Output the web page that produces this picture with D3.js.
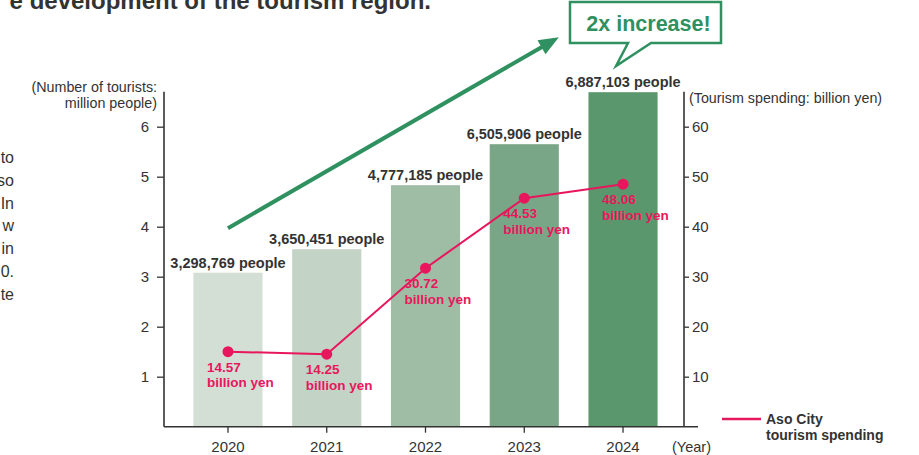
<!DOCTYPE html>
<html>
<head>
<meta charset="utf-8">
<script src="https://cdn.jsdelivr.net/npm/d3@7"></script>
<style>
  body { margin: 0; background: #fff; }
  svg { display: block; font-family: "Liberation Sans", Arial, sans-serif; }
</style>
</head>
<body>
<div id="graph"></div>
<script>
// data
let years = ["2020", "2021", "2022", "2023", "2024"];
let tourists = [3.08, 3.55, 4.83, 5.65, 6.69];          // bar heights, million people
let touristLabels = ["3,298,769 people", "3,650,451 people", "4,777,185 people", "6,505,906 people", "6,887,103 people"];
let spending = [15.0, 14.5, 31.7, 45.7, 48.5];           // billion yen
let spendingLabels = ["14.57", "14.25", "30.72", "44.53", "48.06"];
let leftTicks = [1, 2, 3, 4, 5, 6];
let rightTicks = [10, 20, 30, 40, 50, 60];
let barColors = ["#d3dfd4", "#c3d3c5", "#9fbca4", "#79a686", "#5a976c"];
let sideText = ["to", "so", "In", "w", "in", "0.", "te"];

let width = 919, height = 455;
let pink = "#e8175d", green = "#2f9060", ink = "#333333";

let svg = d3.select("#graph")
    .append("svg")
        .attr("width", width)
        .attr("height", height);

// scales
let x = d3.scaleBand()
    .domain(years)
    .range([178.6, 672.4])
    .paddingInner(0.3)
    .paddingOuter(0.15);

let yL = d3.scaleLinear().domain([0, 6.7]).range([426.7, 91.7]);
let yR = d3.scaleLinear().domain([0, 67]).range([426.7, 91.7]);

let axisLeftX = 164, axisRightX = 684, axisEndX = 698;

// cut-off heading + paragraph pieces (the picture is a crop of a bigger page)
svg.append("text")
    .attr("x", 431).attr("y", 9)
    .attr("text-anchor", "end")
    .style("font-size", "24px")
    .style("font-weight", "bold")
    .attr("fill", ink)
    .text("e development of the tourism region.");

svg.selectAll("text.side")
    .data(sideText)
    .enter()
    .append("text")
    .attr("class", "side")
    .attr("x", 14)
    .attr("y", (d, i) => 163 + i * 22.8)
    .attr("text-anchor", "end")
    .style("font-size", "16px")
    .attr("fill", ink)
    .text(d => d);

// bars
svg.selectAll("rect.bar")
    .data(tourists)
    .enter()
    .append("rect")
    .attr("class", "bar")
    .attr("x", (d, i) => x(years[i]))
    .attr("width", x.bandwidth())
    .attr("y", d => yL(d))
    .attr("height", d => yL(0) - yL(d))
    .attr("fill", (d, i) => barColors[i]);

svg.selectAll("text.barlabel")
    .data(tourists)
    .enter()
    .append("text")
    .attr("class", "barlabel")
    .attr("x", (d, i) => x(years[i]) + x.bandwidth() / 2)
    .attr("y", d => yL(d) - 5)
    .attr("text-anchor", "middle")
    .style("font-size", "14.5px")
    .style("font-weight", "bold")
    .attr("fill", ink)
    .text((d, i) => touristLabels[i]);

// left axis
let gL = svg.append("g")
    .attr("transform", `translate(${axisLeftX},0)`)
    .call(d3.axisLeft(yL).tickValues(leftTicks).tickFormat(d3.format("d")).tickSize(7).tickPadding(8).tickSizeOuter(0));
gL.select(".domain").remove();
gL.append("line").attr("y1", yL(0)).attr("y2", yL(6.7)).attr("stroke", ink).attr("stroke-width", 1.6);

// right axis
let gR = svg.append("g")
    .attr("transform", `translate(${axisRightX},0)`)
    .call(d3.axisRight(yR).tickValues(rightTicks).tickFormat(d3.format("d")).tickSize(5).tickPadding(3).tickSizeOuter(0));
gR.select(".domain").remove();
gR.append("line").attr("y1", yR(0)).attr("y2", yR(67)).attr("stroke", ink).attr("stroke-width", 1.6);

// bottom axis
let gB = svg.append("g")
    .attr("transform", `translate(0,${yL(0)})`)
    .call(d3.axisBottom(x).tickSize(6).tickPadding(9).tickSizeOuter(0));
gB.select(".domain").remove();
gB.append("line").attr("x1", axisLeftX).attr("x2", axisEndX).attr("stroke", ink).attr("stroke-width", 1.6);

[gL, gR, gB].forEach(g => {
    g.selectAll(".tick line").attr("stroke", ink).attr("stroke-width", 1.3);
    g.selectAll(".tick text")
        .attr("fill", ink)
        .style("font-size", "15px")
        .style("font-family", "'Liberation Sans', Arial, sans-serif");
});

svg.append("text")
    .attr("x", 672).attr("y", 452)
    .style("font-size", "14.5px")
    .attr("fill", ink)
    .text("(Year)");

// axis titles
svg.append("text")
    .attr("x", 157).attr("y", 92)
    .attr("text-anchor", "end")
    .style("font-size", "14.3px")
    .attr("fill", ink)
    .text("(Number of tourists:");
svg.append("text")
    .attr("x", 157).attr("y", 108)
    .attr("text-anchor", "end")
    .style("font-size", "14.3px")
    .attr("fill", ink)
    .text("million people)");
svg.append("text")
    .attr("x", 689).attr("y", 103)
    .style("font-size", "14.3px")
    .attr("fill", ink)
    .text("(Tourism spending: billion yen)");

// spending line + dots
let line = d3.line()
    .x((d, i) => x(years[i]) + x.bandwidth() / 2)
    .y(d => yR(d));

svg.append("path")
    .datum(spending)
    .attr("d", line)
    .attr("fill", "none")
    .attr("stroke", pink)
    .attr("stroke-width", 2);

svg.selectAll("circle.dot")
    .data(spending)
    .enter()
    .append("circle")
    .attr("class", "dot")
    .attr("cx", (d, i) => x(years[i]) + x.bandwidth() / 2)
    .attr("cy", d => yR(d))
    .attr("r", 5.5)
    .attr("fill", pink);

let sl = svg.selectAll("text.spend")
    .data(spending)
    .enter()
    .append("text")
    .attr("class", "spend")
    .attr("x", (d, i) => x(years[i]) + x.bandwidth() / 2 - 21)
    .attr("y", d => yR(d) + 20)
    .style("font-size", "13.5px")
    .style("font-weight", "bold")
    .attr("fill", pink);
sl.append("tspan").text((d, i) => spendingLabels[i]);
sl.append("tspan")
    .attr("x", (d, i) => x(years[i]) + x.bandwidth() / 2 - 21)
    .attr("dy", 15.5)
    .text("billion yen");

// legend
svg.append("line")
    .attr("x1", 722).attr("x2", 761)
    .attr("y1", 419).attr("y2", 419)
    .attr("stroke", pink)
    .attr("stroke-width", 2.5);
svg.append("text")
    .attr("x", 766).attr("y", 424)
    .style("font-size", "14px")
    .style("font-weight", "bold")
    .attr("fill", ink)
    .text("Aso City");
svg.append("text")
    .attr("x", 766).attr("y", 440)
    .style("font-size", "14px")
    .style("font-weight", "bold")
    .attr("fill", ink)
    .text("tourism spending");

// big growth arrow, placed from the scales
let ax1 = x("2020") + x.bandwidth() / 2, ay1 = yL(3.97);
let ax2 = x("2023") + x.bandwidth(), ay2 = yL(7.79);
let ang = Math.atan2(ay2 - ay1, ax2 - ax1);
let headLen = 20, headW = 8;
let bx = ax2 - headLen * Math.cos(ang), by = ay2 - headLen * Math.sin(ang);

svg.append("line")
    .attr("x1", ax1).attr("y1", ay1)
    .attr("x2", bx + 2 * Math.cos(ang)).attr("y2", by + 2 * Math.sin(ang))
    .attr("stroke", green)
    .attr("stroke-width", 4);
svg.append("path")
    .attr("d", `M${ax2},${ay2}L${bx - headW * Math.sin(ang)},${by + headW * Math.cos(ang)}L${bx + headW * Math.sin(ang)},${by - headW * Math.cos(ang)}Z`)
    .attr("fill", green);

// callout box
let cx0 = 570, cx1 = 721, cy0 = 2, cy1 = 43;
let tipX = x("2024") + x.bandwidth() / 2 - 7, tipY = 66;
svg.append("path")
    .attr("d", `M${cx0},${cy0}H${cx1}V${cy1}H651L${tipX},${tipY}L628,${cy1}H${cx0}Z`)
    .attr("fill", "#fff")
    .attr("stroke", green)
    .attr("stroke-width", 2.5)
    .attr("stroke-linejoin", "miter");
svg.append("text")
    .attr("x", (cx0 + cx1) / 2 + 3).attr("y", 31)
    .attr("text-anchor", "middle")
    .style("font-size", "21.5px")
    .style("font-weight", "bold")
    .attr("fill", green)
    .text("2x increase!");
</script>
</body>
</html>
